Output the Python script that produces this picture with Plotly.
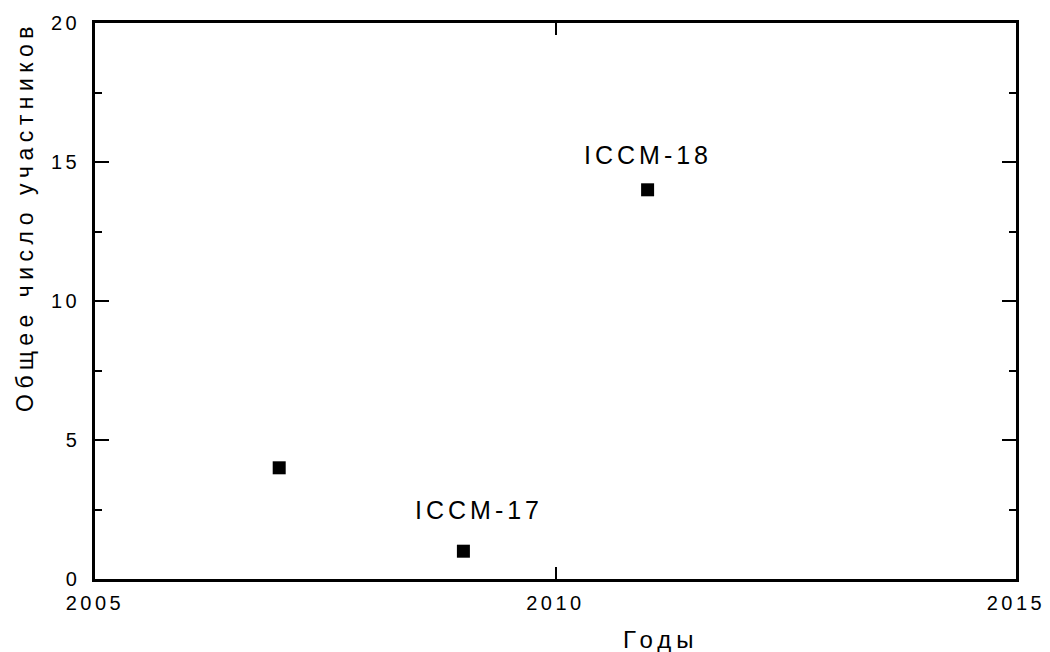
import plotly.graph_objects as go

# Participants per year
years = [2007, 2009, 2011]
participants = [4, 1, 14]

# Labelled conferences: (year, value, label, x offset px, y offset px)
label_years = [2009, 2011]
label_values = [1, 14]
label_texts = ["ICCM-17", "ICCM-18"]
label_xshift = [16, 0]
label_yshift = [41, 35]

x_title = "Годы"
y_title = "Общее число участников"

FONT = "Liberation Sans, Arial, sans-serif"

fig = go.Figure()
fig.add_trace(go.Scatter(
    x=years, y=participants, mode="markers",
    marker=dict(symbol="square", size=13, color="black"),
    hoverinfo="x+y", showlegend=False,
))

for xv, yv, txt, dx, dy in zip(label_years, label_values, label_texts, label_xshift, label_yshift):
    fig.add_annotation(
        x=xv, y=yv, text=txt, showarrow=False,
        xshift=dx, yshift=dy,
        font=dict(family=FONT, size=25, color="black"),
    )

# Axis titles, placed as free text
fig.add_annotation(
    text=x_title, xref="paper", yref="paper", x=0.614, y=0, yshift=-60,
    showarrow=False, xanchor="center", yanchor="middle",
    font=dict(family=FONT, size=24, color="black"),
)
fig.add_annotation(
    text=y_title, xref="paper", yref="paper", x=0, xshift=-70, y=0.652,
    showarrow=False, xanchor="center", yanchor="middle", textangle=-90,
    font=dict(family=FONT, size=23, color="black"),
)

axis_common = dict(
    showline=True, linecolor="black", linewidth=2.5, mirror="ticks",
    ticks="inside", tickcolor="black", tickwidth=2,
    showgrid=False, zeroline=False,
    tickfont=dict(family=FONT, size=20, color="black"),
)

fig.update_xaxes(range=[2005, 2015], tickvals=[2005, 2010, 2015], ticklen=12,
                 ticklabelstandoff=4, **axis_common)
fig.update_yaxes(
    range=[0, 20], tickvals=[0, 5, 10, 15, 20], ticklen=14,
    minor=dict(tickvals=[2.5, 7.5, 12.5, 17.5], ticks="inside", ticklen=7,
               tickcolor="black", tickwidth=2, showgrid=False),
    ticklabelstandoff=8,
    **axis_common,
)

fig.update_layout(
    width=1050, height=652,
    margin=dict(l=95, r=29, t=19, b=73),
    paper_bgcolor="white", plot_bgcolor="white",
    font=dict(family=FONT, color="black"),
)

# Wide letter spacing on all chart text (annotations in layout order)
spacing_js = """
var gd = document.getElementById('{plot_id}');
var annSpacing = ['4px', '4px', '5px', '5.5px'];
function spaceText() {
  gd.querySelectorAll('.xtick text, .ytick text').forEach(function (t) { t.style.letterSpacing = '3.5px'; });
  gd.querySelectorAll('.annotation').forEach(function (a, i) {
    var t = a.querySelector('.annotation-text');
    if (t) { t.style.letterSpacing = annSpacing[i] || '4px'; }
  });
}
spaceText();
gd.on('plotly_afterplot', spaceText);
"""

fig.write_html("out.html", post_script=spacing_js)
